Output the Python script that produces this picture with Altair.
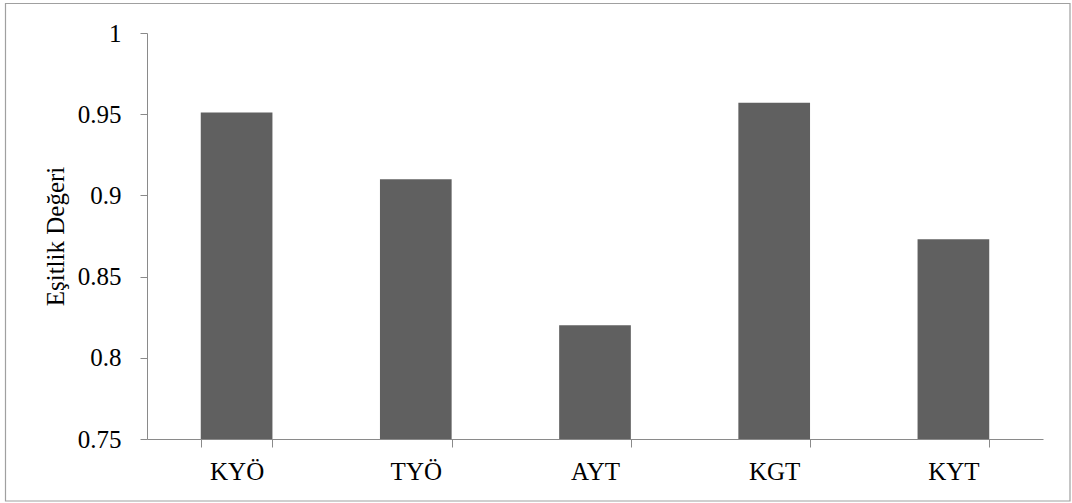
import altair as alt
import pandas as pd

# Equality values per exam type
categories = ["KYÖ", "TYÖ", "AYT", "KGT", "KYT"]
values = [0.951, 0.910, 0.820, 0.957, 0.873]
y_ticks = [0.75, 0.8, 0.85, 0.9, 0.95, 1.0]

df = pd.DataFrame({"kategori": categories, "deger": values})

FONT = "Liberation Serif"
AXIS_GRAY = "#8a8a8a"

bars = alt.Chart(df).mark_bar(color="#606060").encode(
    x=alt.X(
        "kategori:N",
        sort=categories,
        scale=alt.Scale(paddingInner=0.6, paddingOuter=0.3),
        axis=alt.Axis(
            title=None,
            labelAngle=0,
            labelFont=FONT,
            labelFontSize=25,
            labelColor="black",
            labelPadding=12,
            tickBand="extent",
            tickSize=8,
            tickColor=AXIS_GRAY,
            domainColor=AXIS_GRAY,
            grid=False,
        ),
    ),
    y=alt.Y(
        "deger:Q",
        scale=alt.Scale(domain=[0.75, 1.0], zero=False, nice=False),
        axis=alt.Axis(
            title="Eşitlik Değeri",
            values=y_ticks,
            format="~g",
            labelFont=FONT,
            labelFontSize=25,
            labelColor="black",
            labelPadding=19,
            tickSize=7,
            tickColor=AXIS_GRAY,
            domainColor=AXIS_GRAY,
            grid=False,
            titleFont=FONT,
            titleFontSize=25,
            titleFontWeight="normal",
            titleColor="black",
            titleAngle=-90,
            titleAlign="center",
            titleBaseline="alphabetic",
            titleX=-84,
            titleY=203,
        ),
    ),
    y2=alt.Y2Datum(0.75),
)

# Outer frame around the whole figure
frame = alt.Chart(alt.Data(values=[{}])).mark_rect(
    fill=None, stroke="#a0a0a0", strokeWidth=1.2
).encode(
    x=alt.value(-141.5),
    x2=alt.value(923),
    y=alt.value(-29.5),
    y2=alt.value(468),
)

chart = (
    alt.layer(bars, frame)
    .properties(
        width=896,
        height=406,
        autosize=alt.AutoSizeParams(type="none"),
        padding={"left": 147, "top": 33, "right": 29, "bottom": 64},
        background="white",
    )
    .configure_view(stroke=None)
)

chart.save("out.html", embed_options={"renderer": "svg", "actions": False})
